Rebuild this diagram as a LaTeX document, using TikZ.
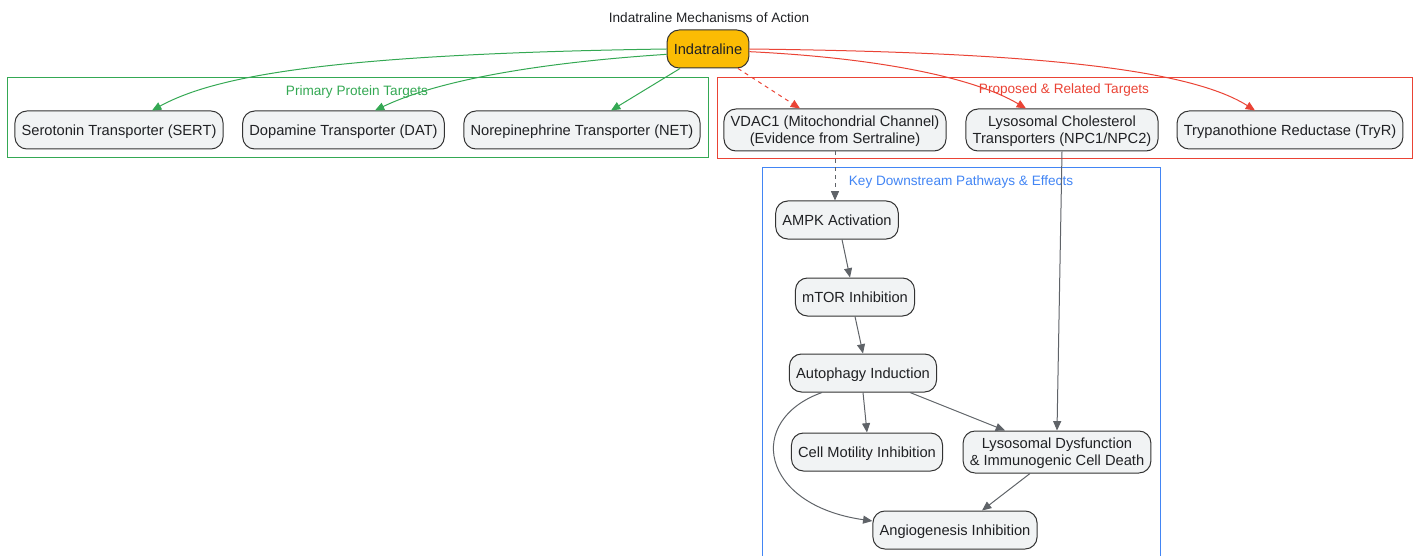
\documentclass[tikz,border=0pt]{standalone}
\usepackage{fontspec}
\setmainfont{Liberation Sans}
\usetikzlibrary{arrows.meta}
\definecolor{grn}{HTML}{34A853}
\definecolor{rd}{HTML}{EA4335}
\definecolor{blu}{HTML}{4285F4}
\definecolor{gold}{HTML}{FBBC04}
\definecolor{nodefill}{HTML}{F1F3F4}
\definecolor{nodeline}{HTML}{333333}
\definecolor{edgegray}{HTML}{5F6368}
\definecolor{txt}{HTML}{202124}

\begin{document}
\begin{tikzpicture}[x=0.75pt,y=-0.75pt,
  box/.style={draw=nodeline,fill=nodefill,rounded corners=9pt,line width=0.75pt,
    minimum height=28.5pt,inner xsep=5pt,inner ysep=2pt,align=center,text=txt,
    text depth=0pt,font=\fontsize{11}{12.75}\selectfont},
  twoline/.style={box,minimum height=31.5pt},
  cluster/.style={line width=0.75pt},
  clabel/.style={font=\fontsize{10.2}{12}\selectfont,text depth=0pt},
  arr/.style={-{Triangle[length=7pt,width=6pt]},line width=0.75pt}]
\useasboundingbox (0,0) rectangle (1417,556);

\draw[cluster,grn] (7,78) rectangle (708,158);
\draw[cluster,rd] (717,78) rectangle (1412,159);
\draw[cluster,blu] (762,168) rectangle (1160,570);

\node[clabel,text=txt] (title) at (709,18) {Indatraline Mechanisms of Action};
\node[clabel,text=grn] (lblgreen) at (357,91) {Primary Protein Targets};
\node[clabel,text=rd] (lblred) at (1064,89) {Proposed \& Related Targets};
\node[clabel,text=blu] (lblblue) at (961,181) {Key Downstream Pathways \& Effects};

\node[box,fill=gold] (ind) at (708,49) {Indatraline};

\node[box] (sert) at (119,130) {Serotonin Transporter (SERT)};
\node[box] (dat) at (343.5,130) {Dopamine Transporter (DAT)};
\node[box] (net) at (582,130) {Norepinephrine Transporter (NET)};

\node[twoline] (vdac) at (835,130) {VDAC1 (Mitochondrial Channel)\\(Evidence from Sertraline)};
\node[twoline] (npc) at (1062,130) {Lysosomal Cholesterol\\Transporters (NPC1/NPC2)};
\node[box] (tryr) at (1290,130) {Trypanothione Reductase (TryR)};

\node[box] (ampk) at (837,220) {AMPK Activation};
\node[box] (mtor) at (855,297) {mTOR Inhibition};
\node[box] (auto) at (863,373) {Autophagy Induction};
\node[box] (motil) at (867,452) {Cell Motility Inhibition};
\node[twoline] (lysdys) at (1057,452) {Lysosomal Dysfunction\\\& Immunogenic Cell Death};
\node[box] (angio) at (955,530) {Angiogenesis Inhibition};

\draw[arr,grn] (ind.west) .. controls (330,54) and (215,76) .. ([xshift=24.75pt]sert.north);
\draw[arr,grn] ([yshift=-4pt]ind.west) .. controls (520,64) and (430,84) .. ([xshift=23.6pt]dat.north);
\draw[arr,grn] ([xshift=-21pt]ind.south) -- ([xshift=21.75pt]net.north);

\draw[arr,rd,dashed] ([xshift=22.5pt]ind.south) -- ([xshift=-26.25pt]vdac.north);
\draw[arr,rd] ([yshift=-2pt]ind.east) .. controls (880,58) and (975,78) .. ([xshift=-27pt]npc.north);
\draw[arr,rd] (ind.east) .. controls (1010,52) and (1185,66) .. ([xshift=-26.25pt]tryr.north);

\draw[arr,edgegray,dashed] (vdac.south) -- (vdac.south |- ampk.north);
\draw[arr,edgegray] (npc.south) -- (lysdys.north);
\draw[arr,edgegray] ([xshift=3.75pt]ampk.south) -- ([xshift=-3.75pt]mtor.north);
\draw[arr,edgegray] (mtor.south) -- (auto.north);
\draw[arr,edgegray] (auto.south) -- (motil.north);
\draw[arr,edgegray] ([xshift=35.25pt]auto.south) -- ([xshift=-39pt]lysdys.north);
\draw[arr,edgegray] ([xshift=-30.75pt]auto.south) .. controls (745,420) and (760,505) .. ([yshift=6.75pt]angio.west);
\draw[arr,edgegray] ([xshift=-20.25pt]lysdys.south) -- ([xshift=20.25pt]angio.north);

\end{tikzpicture}
\end{document}
